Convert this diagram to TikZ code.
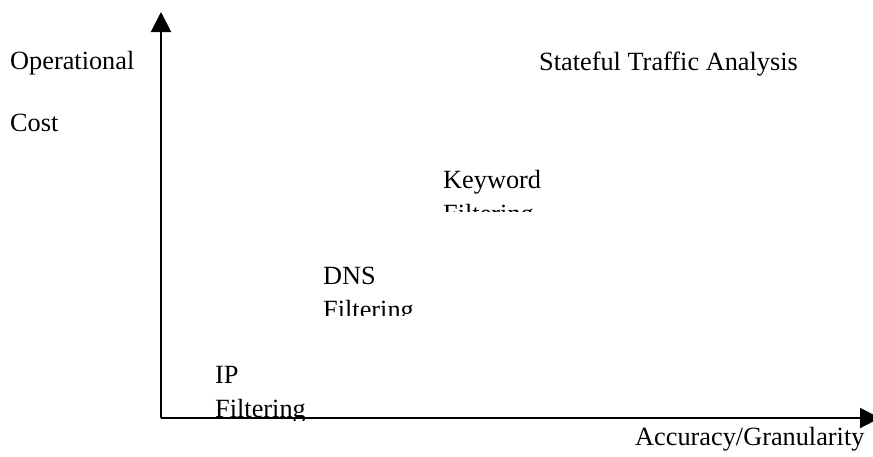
\documentclass[tikz,border=0pt]{standalone}
\usepackage{fontspec}
\setmainfont{Liberation Serif}
\usetikzlibrary{arrows.meta}
\begin{document}
\begin{tikzpicture}[x=1pt,y=-1pt,
  lbl/.style={anchor=base west,inner sep=0pt,align=left,
    font=\fontsize{26.3pt}{34pt}\selectfont},
  axis/.style={line width=2pt,-{Triangle[width=20pt,length=20pt]}}]
\useasboundingbox (0,0) rectangle (873,456);

% axis labels
\node[lbl] (ycap1) at (10,69) {Operational};
\node[lbl] (ycap2) at (10,131) {Cost};
\node[lbl] (xcap) at (635,445) {Accuracy/Granularity};

% techniques, each in its own clipped text frame
% (a two-line node is anchored at the baseline of its last line)
\node[lbl] (sta) at (539,70) {Stateful Traffic Analysis};
\begin{scope}
  \clip (430,140) rectangle (600,211);
  \node[lbl] (kw) at (443,222) {Keyword\\Filtering};
\end{scope}
\begin{scope}
  \clip (310,240) rectangle (480,315);
  \node[lbl] (dns) at (323,318) {DNS\\Filtering};
\end{scope}
\begin{scope}
  \clip (200,340) rectangle (360,420);
  \node[lbl] (ip) at (215,417) {IP\\Filtering};
\end{scope}

% axes
\coordinate (O) at (161,418);
\coordinate (ytop) at (161,12);
\coordinate (xend) at (880,418);
\draw[axis] (O) -- (ytop);
\draw[axis] (O) -- (xend);
\end{tikzpicture}
\end{document}
